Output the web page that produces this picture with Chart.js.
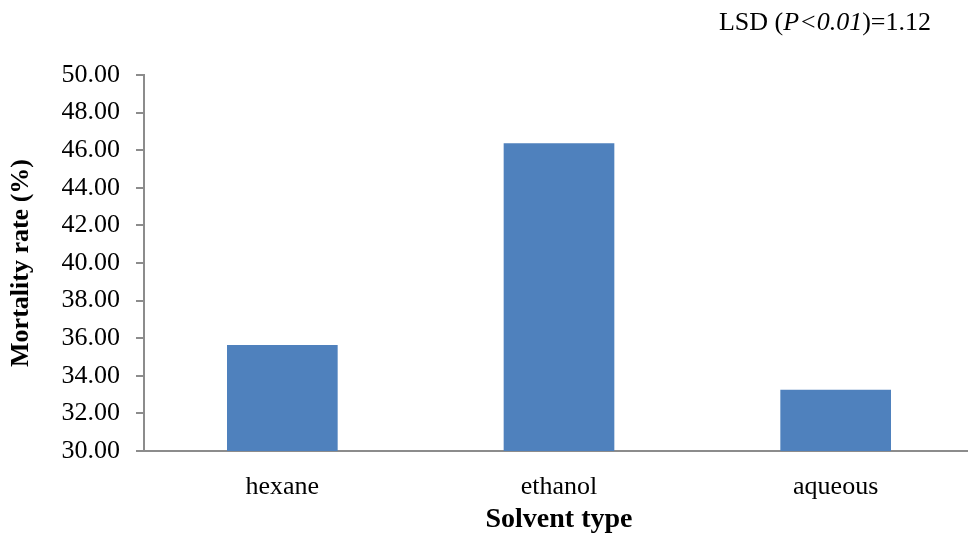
<!DOCTYPE html>
<html>
<head>
<meta charset="utf-8">
<script src="https://cdn.jsdelivr.net/npm/chart.js@4"></script>
<style>
  html, body { margin: 0; padding: 0; background: #fff; overflow: hidden; }
</style>
</head>
<body>
<canvas id="myChart" width="980" height="537"></canvas>
<script>
// chart data
const solvents = ['hexane', 'ethanol', 'aqueous'];
const mortality = [35.64, 46.37, 33.26];
const yMin = 30;
const yMax = 50;
const yStep = 2;
const lsdNote = ['LSD (', 'P<0.01', ')=1.12'];

const axisGrey = '#8c8c8c';
const serif = "'Liberation Serif', 'Times New Roman', serif";

// LSD note in the top right, with the italic part
const lsdPlugin = {
    id: 'lsdNote',
    afterDraw(chart) {
        const ctx = chart.ctx;
        ctx.save();
        ctx.fillStyle = '#000';
        ctx.textBaseline = 'alphabetic';
        const fonts = ['26px ' + serif, 'italic 26px ' + serif, '26px ' + serif];
        let widths = lsdNote.map((t, i) => { ctx.font = fonts[i]; return ctx.measureText(t).width; });
        let x = 931 - widths.reduce((a, b) => a + b, 0);
        lsdNote.forEach((t, i) => {
            ctx.font = fonts[i];
            ctx.fillText(t, x, 30);
            x += widths[i];
        });
        ctx.restore();
    }
};

new Chart(document.getElementById('myChart'), {
    type: 'bar',
    data: {
        labels: solvents,
        datasets: [{
            data: mortality,
            backgroundColor: '#4f81bd',
            borderColor: '#4f81bd',
            borderWidth: 0,
            barPercentage: 0.4,
            categoryPercentage: 1.0
        }]
    },
    options: {
        responsive: false,
        animation: false,
        layout: { padding: { top: 75, right: 6, left: 0, bottom: 0 } },
        plugins: {
            legend: { display: false },
            tooltip: { enabled: false }
        },
        scales: {
            x: {
                afterFit: (scale) => { scale.height = 86; },
                grid: { display: false },
                border: { display: true, color: axisGrey, width: 2 },
                ticks: { color: '#000', padding: 13, font: { family: serif, size: 26 } },
                title: {
                    display: true,
                    text: 'Solvent type',
                    color: '#000',
                    padding: { top: 0, bottom: 0 },
                    font: { family: serif, size: 28, weight: 'bold' }
                }
            },
            y: {
                min: yMin,
                max: yMax,
                afterFit: (scale) => { scale.width = 144; },
                grid: { drawOnChartArea: false, drawTicks: true, tickLength: 8, color: axisGrey, lineWidth: 2 },
                border: { display: true, color: axisGrey, width: 2 },
                ticks: {
                    stepSize: yStep,
                    color: '#000',
                    padding: 16,
                    font: { family: serif, size: 26 },
                    callback: (value) => value.toFixed(2)
                },
                title: {
                    display: true,
                    text: 'Mortality rate (%)',
                    color: '#000',
                    padding: { top: 6, bottom: 0 },
                    font: { family: serif, size: 26, weight: 'bold' }
                }
            }
        }
    },
    plugins: [lsdPlugin]
});
</script>
</body>
</html>
